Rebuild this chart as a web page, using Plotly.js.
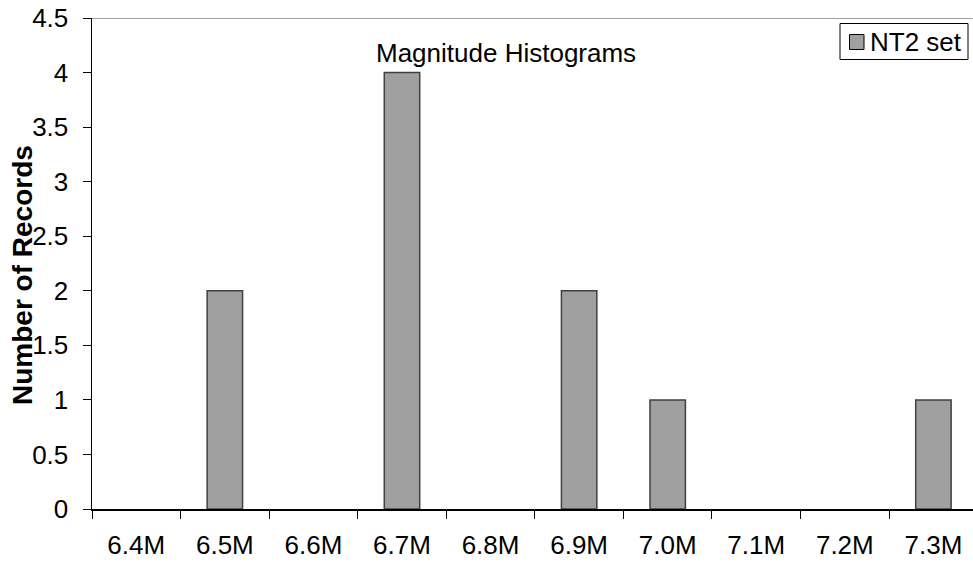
<!DOCTYPE html>
<html>
<head>
<meta charset="utf-8">
<script src="https://cdn.plot.ly/plotly-3.0.1.min.js"></script>
<style>html,body{margin:0;padding:0;background:#fff;}#chart{width:973px;height:565px;}</style>
</head>
<body>
<div id="chart"></div>
<script>
const categories = ["6.4M","6.5M","6.6M","6.7M","6.8M","6.9M","7.0M","7.1M","7.2M","7.3M"];
const nt2Counts = [0, 2, 0, 4, 0, 2, 1, 0, 0, 1];
const seriesName = "NT2 set";
const yTicks = [0, 0.5, 1, 1.5, 2, 2.5, 3, 3.5, 4, 4.5];
const yTickText = ["0","0.5","1","1.5","2","2.5","3","3.5","4","4.5"];
const chartTitle = "Magnitude Histograms";
const yTitle = "Number of Records";

const FONT = "Liberation Sans, Arial, sans-serif";
const W = 973, H = 565;
const L = 92, T = 18, PW = W - 92, PH = H - 18 - 56;
const BAR_COLOR = "#a0a0a0", BAR_LINE = "#404040";

// pixel -> paper coordinate helpers (for legend / title placement)
const px = x => (x - L) / PW;
const py = y => 1 - (y - T) / PH;

const trace = {
  type: "bar",
  x: categories,
  y: nt2Counts,
  name: seriesName,
  width: 0.4,
  marker: {color: BAR_COLOR, line: {color: BAR_LINE, width: nt2Counts.map(v => v > 0 ? 1.5 : 0)}},
  showlegend: false,
  hoverinfo: "x+y"
};

const layout = {
  width: W, height: H,
  margin: {l: L, r: 0, t: T, b: 56, pad: 0, autoexpand: false},
  paper_bgcolor: "#ffffff",
  plot_bgcolor: "#ffffff",
  font: {family: FONT, size: 26, color: "#000"},
  showlegend: false,
  xaxis: {
    type: "category",
    range: [-0.5, 9.447],
    tickson: "boundaries",
    ticks: "outside",
    ticklen: 8,
    tickcolor: "#000",
    tickwidth: 1,
    showline: true,
    linecolor: "#000",
    linewidth: 1.5,
    showgrid: false,
    zeroline: false,
    tickfont: {family: FONT, size: 26, color: "#000"},
    ticklabelstandoff: 12,
    automargin: false,
    fixedrange: true
  },
  yaxis: {
    range: [0, 4.5],
    tickvals: yTicks,
    ticktext: yTickText,
    ticks: "outside",
    ticklen: 8,
    tickcolor: "#000",
    tickwidth: 1,
    showline: true,
    linecolor: "#000",
    linewidth: 1.5,
    showgrid: false,
    zeroline: false,
    tickfont: {family: FONT, size: 26, color: "#000"},
    ticklabelstandoff: 9,
    automargin: false,
    fixedrange: true
  },
  shapes: [
    {type: "line", xref: "paper", yref: "y",
     x0: 0, x1: 1, y0: 4.5, y1: 4.5,
     line: {color: "#808080", width: 1.5}},
    // legend box
    {type: "rect", xref: "paper", yref: "paper",
     x0: px(840), x1: px(968), y0: py(23.5), y1: py(59.5),
     fillcolor: "#ffffff", line: {color: "#000", width: 1}},
    // legend swatch
    {type: "rect", xref: "paper", yref: "paper",
     x0: px(849.5), x1: px(864), y0: py(34.5), y1: py(49.5),
     fillcolor: BAR_COLOR, line: {color: "#000", width: 1}}
  ],
  annotations: [
    {text: chartTitle, xref: "paper", yref: "paper",
     x: px(506), y: py(53),
     xanchor: "center", yanchor: "middle", showarrow: false,
     font: {family: FONT, size: 26, color: "#000"}},
    {text: "<b>" + yTitle + "</b>", xref: "paper", yref: "paper",
     x: px(22), y: py(275),
     xanchor: "center", yanchor: "middle", textangle: -90, showarrow: false,
     font: {family: FONT, size: 28, color: "#000"}},
    {text: seriesName, xref: "paper", yref: "paper",
     x: px(868), y: py(42),
     xanchor: "left", yanchor: "middle", showarrow: false,
     font: {family: FONT, size: 26, color: "#000"}}
  ]
};

Plotly.newPlot("chart", [trace], layout, {displayModeBar: false, staticPlot: true});
</script>
</body>
</html>
